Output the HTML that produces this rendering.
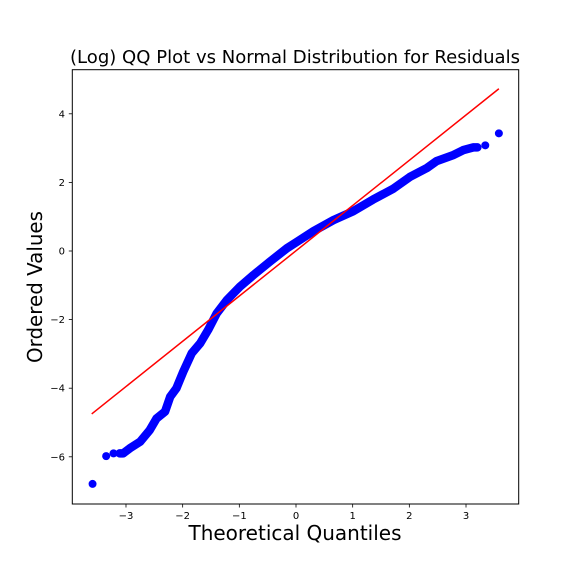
<!DOCTYPE html>
<html><head><meta charset="utf-8"><style>
body{margin:0;background:#fff;}
svg{display:block;font-family:"DejaVu Sans","Liberation Sans",sans-serif;}
</style></head><body>
<svg id="chart" width="576" height="576" viewBox="0 0 576 576">
<rect width="576" height="576" fill="#fff"/>
<text x="295" y="63" font-size="18" text-anchor="middle" textLength="450" lengthAdjust="spacingAndGlyphs" fill="#000">(Log) QQ Plot vs Normal Distribution for Residuals</text>
<g id="plot"></g>
<rect x="72.3" y="69.7" width="446.4" height="434.3" fill="none" stroke="#000" stroke-width="1"/>
<text x="295" y="540" font-size="20" text-anchor="middle" textLength="213" lengthAdjust="spacingAndGlyphs" fill="#000">Theoretical Quantiles</text>
<text transform="translate(42,287) rotate(-90)" font-size="20" text-anchor="middle" textLength="152" lengthAdjust="spacingAndGlyphs" fill="#000">Ordered Values</text>
</svg>
<script>
const xTicks = [-3, -2, -1, 0, 1, 2, 3];
const yTicks = [-6, -4, -2, 0, 2, 4];
const quantiles = [-3.59,-3.35,-3.22,-3.11,-3.05,-2.93,-2.75,-2.58,-2.46,-2.31,-2.22,-2.11,-1.99,-1.84,-1.69,-1.55,-1.40,-1.22,-0.99,-0.75,-0.46,-0.16,0,0.31,0.66,1.01,1.36,1.72,2.01,2.31,2.48,2.78,2.95,3.13,3.20,3.34,3.58];
const ordered = [-6.79,-5.98,-5.90,-5.90,-5.90,-5.75,-5.56,-5.22,-4.88,-4.68,-4.25,-4.0,-3.52,-2.98,-2.69,-2.30,-1.82,-1.43,-1.04,-0.70,-0.31,0.08,0.25,0.58,0.90,1.16,1.50,1.82,2.16,2.42,2.62,2.80,2.94,3.02,3.02,3.08,3.43];
const fitLine = [[-3.605,-4.75],[3.58,4.73]];

const NS = "http://www.w3.org/2000/svg";
const g = document.getElementById('plot');
const sx = v => 296 + v * 56.67;
const sy = v => 251 - v * 34.3;
function mk(tag, attrs){const e=document.createElementNS(NS,tag);for(const k in attrs)e.setAttribute(k,attrs[k]);g.appendChild(e);return e;}

xTicks.forEach(t=>{
  const l=mk('line',{x1:sx(t),x2:sx(t),y1:504,y2:507.5,stroke:'#000','stroke-width':0.8});
  
  
  const tx=mk('text',{x:sx(t),y:519,'font-size':10,'text-anchor':'middle',fill:'#000'});
  tx.textContent=(t<0?'\u2212'+(-t):t);
  
  
});
yTicks.forEach(t=>{
  const l=mk('line',{x1:68.8,x2:72.3,y1:sy(t),y2:sy(t),stroke:'#000','stroke-width':0.8});
  
  
  const tx=mk('text',{x:65,y:sy(t)+3.5,'font-size':10,'text-anchor':'end',fill:'#000'});
  tx.textContent=(t<0?'\u2212'+(-t):t);
  
  
});

let pts=[];
for(let i=3;i<=34;i++) pts.push(sx(quantiles[i])+','+sy(ordered[i]));
const band=mk('polyline',{points:pts.join(' '),fill:'none',stroke:'#0000ff','stroke-width':8.5,'stroke-linejoin':'round','stroke-linecap':'round'});


quantiles.forEach((q,i)=>{
  const c=mk('circle',{cx:sx(q),cy:sy(ordered[i]),r:4,fill:'#0000ff'});
  
  
});
const fl=mk('line',{x1:sx(fitLine[0][0]),y1:sy(fitLine[0][1]),x2:sx(fitLine[1][0]),y2:sy(fitLine[1][1]),stroke:'#ff0000','stroke-width':1.5});


</script>
</body></html>
